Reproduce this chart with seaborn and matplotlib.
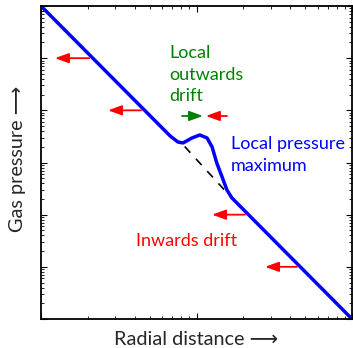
import numpy as np
import pandas as pd
import matplotlib
matplotlib.use("Agg")
import matplotlib.pyplot as plt
from matplotlib.ticker import LogLocator, NullFormatter
import seaborn as sns

# ---- data (log-log axes) ----
curve_x = [1.0, 6.75, 7.6, 8.19, 9.35, 10.5, 11.7, 12.6, 13.5, 14.6, 15.7, 16.9, 100.0]
curve_y = [1000.0, 3.25, 2.47, 2.37, 2.95, 3.37, 2.95, 1.98, 0.98, 0.53, 0.297, 0.209, 0.001]

dash_x = [8.4, 16.9]
dash_y = [2.02, 0.207]

# arrows: tail x, head x, y, colour
arrow_tail = [2.04, 4.40, 8.07, 15.7, 20.5, 44.3]
arrow_head = [1.23, 2.70, 11.0, 11.5, 12.6, 27.6]
arrow_y = [100.0, 10.0, 7.8, 7.8, 0.1, 0.01]
arrow_col = ["red", "red", "green", "red", "red", "red"]

xlim = (1.0, 100.0)
ylim = (1e-3, 1e3)

sns.set_style("ticks")
plt.rcParams["font.family"] = ["Lato", "DejaVu Sans"]

W, H = 353, 348
fig = plt.figure(figsize=(W / 100, H / 100), dpi=100)
ax = fig.add_axes([41 / W, 1 - 319 / H, 311 / W, 313 / H])

df_curve = pd.DataFrame({"x": curve_x, "y": curve_y})
df_dash = pd.DataFrame({"x": dash_x, "y": dash_y})

sns.lineplot(data=df_dash, x="x", y="y", ax=ax, color="black", lw=1.2,
             linestyle=(0, (5, 5)), sort=False, estimator=None)
sns.lineplot(data=df_curve, x="x", y="y", ax=ax, color="blue", lw=2.5,
             sort=False, estimator=None, solid_joinstyle="round",
             solid_capstyle="butt")

for xt, xh, yy, c in zip(arrow_tail, arrow_head, arrow_y, arrow_col):
    ax.annotate("", xy=(xh, yy), xytext=(xt, yy),
                arrowprops=dict(arrowstyle="-|>,head_length=0.55,head_width=0.2",
                                color=c, lw=1.3, mutation_scale=15,
                                shrinkA=0, shrinkB=0))

ax.set_xscale("log")
ax.set_yscale("log")
ax.set_xlim(*xlim)
ax.set_ylim(*ylim)

for axis in (ax.xaxis, ax.yaxis):
    axis.set_major_locator(LogLocator(base=10, numticks=20))
    axis.set_minor_locator(LogLocator(base=10, subs=np.arange(2, 10), numticks=20))
    axis.set_major_formatter(NullFormatter())
    axis.set_minor_formatter(NullFormatter())

ax.tick_params(which="both", direction="in", top=True, right=True,
               labelbottom=False, labelleft=False, color="black")
ax.tick_params(which="major", length=4, width=0.8)
ax.tick_params(which="minor", length=2.2, width=0.6)
for s in ax.spines.values():
    s.set_linewidth(1.3)
    s.set_color("black")
ax.set_xlabel("")
ax.set_ylabel("")

# text lines: (text, left px, baseline px, colour, target width px)
lines = [
    ("Local", 169, 58, "green", None),
    ("outwards", 169, 80, "green", 72),
    ("drift", 169, 101, "green", None),
    ("Local pressure", 231, 149, "blue", 116),
    ("maximum", 231, 171, "blue", None),
    ("Inwards drift", 136, 246, "red", 102),
]

fig.canvas.draw()
renderer = fig.canvas.get_renderer()


def fit_size(s, target):
    t = fig.text(0, 0, s, fontsize=10)
    w = t.get_window_extent(renderer).width
    t.remove()
    return 10 * target / w


sizes = [fit_size(s, tw) for s, _, _, _, tw in lines if tw]
fs = float(np.mean(sizes))

for s, px, py, c, _ in lines:
    fig.text(px / W, 1 - py / H, s, color=c, fontsize=fs, ha="left", va="baseline")

xl = "Radial distance \u27f6"
yl = "Gas pressure \u27f6"
fl = (fit_size(xl, 163) + fit_size(yl, 147)) / 2
fig.text(196.5 / W, 1 - 345 / H, xl, ha="center", va="baseline", fontsize=fl)
fig.text(23 / W, 1 - 158.5 / H, yl, rotation=90, ha="center", va="baseline",
         fontsize=fl, rotation_mode="anchor")

fig.savefig("out.png", dpi=100)
